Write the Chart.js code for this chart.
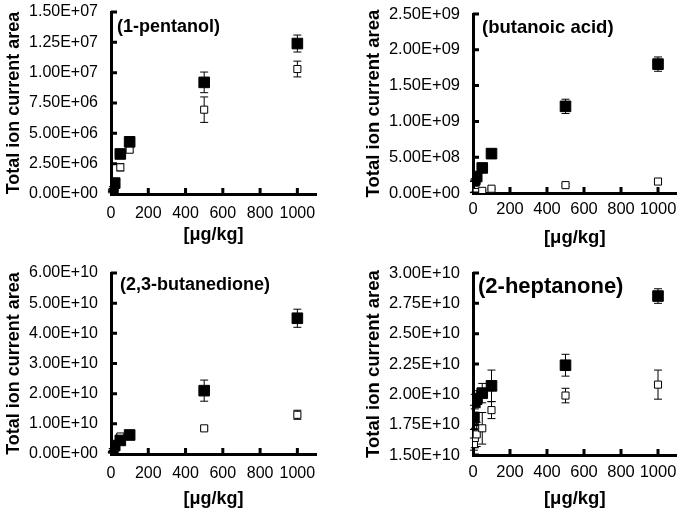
<!DOCTYPE html>
<html>
<head>
<meta charset="utf-8">
<script src="https://cdn.jsdelivr.net/npm/chart.js@4.4.1/dist/chart.umd.min.js"></script>
<style>
  body { margin: 0; background: #fff; overflow: hidden; }
  #wrap { position: relative; width: 685px; height: 510px; overflow: hidden; }
  canvas { position: absolute; }
</style>
</head>
<body>
<div id="wrap">
  <canvas id="c1" width="340" height="255" style="left:0;top:0"></canvas>
  <canvas id="c2" width="325" height="255" style="left:360px;top:0"></canvas>
  <canvas id="c3" width="340" height="253" style="left:0;top:257px"></canvas>
  <canvas id="c4" width="325" height="253" style="left:360px;top:257px"></canvas>
</div>
<script>
// concentrations, µg/kg
const conc = [5, 10, 20, 50, 100, 500, 1000];
const xTicks = [0, 200, 400, 600, 800, 1000];

// 1-pentanol
const pentanolFilled = [0.3e6, 0.5e6, 0.9e6, 3.3e6, 4.3e6, 9.2e6, 1.24e7];
const pentanolFilledErr = [0.1e6, 0.1e6, 0.1e6, 0.2e6, 0.2e6, 0.85e6, 0.7e6];
const pentanolOpen = [0.2e6, 0.35e6, 0.6e6, 2.2e6, 3.65e6, 6.95e6, 1.03e7];
const pentanolOpenErr = [0.1e6, 0.1e6, 0.1e6, 0.3e6, 0.2e6, 1.05e6, 0.65e6];

// butanoic acid
const butanoicFilled = [1.7e8, 1.9e8, 2.3e8, 3.5e8, 5.5e8, 1.21e9, 1.80e9];
const butanoicFilledErr = [0.1e8, 0.1e8, 0.1e8, 0.2e8, 0.3e8, 1.0e8, 1.0e8];
const butanoicOpen = [0.8e7, 1.0e7, 1.5e7, 3.0e7, 6.0e7, 1.1e8, 1.6e8];
const butanoicOpenErr = [0.2e7, 0.2e7, 0.3e7, 0.5e7, 1.0e7, 2.0e7, 3.0e7];

// 2,3-butanedione
const butanedioneFilled = [0.7e9, 1.5e9, 2.8e9, 4.5e9, 6.3e9, 2.1e10, 4.5e10];
const butanedioneFilledErr = [0.2e9, 0.3e9, 0.3e9, 0.5e9, 0.5e9, 3.5e9, 3.0e9];
const butanedioneOpen = [0.5e9, 1.5e9, 3.0e9, 5.8e9, 6.5e9, 8.5e9, 1.3e10];
const butanedioneOpenErr = [0.2e9, 0.3e9, 0.4e9, 0.5e9, 0.5e9, 0.5e9, 1.5e9];

// 2-heptanone
const heptanoneFilled = [1.81e10, 1.94e10, 1.96e10, 2.01e10, 2.07e10, 2.24e10, 2.81e10];
const heptanoneFilledErr = [0.1e10, 0.06e10, 0.07e10, 0.08e10, 0.13e10, 0.09e10, 0.06e10];
const heptanoneOpen = [1.59e10, 1.64e10, 1.67e10, 1.72e10, 1.87e10, 1.99e10, 2.08e10];
const heptanoneOpenErr = [0.05e10, 0.08e10, 0.1e10, 0.13e10, 0.07e10, 0.06e10, 0.12e10];

const FONT = '"Liberation Sans", Arial, sans-serif';

function sci(v) {
  if (Math.abs(v) < 1e-9) return '0.00E+00';
  let e = Math.floor(Math.log10(Math.abs(v)) + 1e-9);
  let m = v / Math.pow(10, e);
  return m.toFixed(2) + 'E' + (e < 0 ? '-' : '+') + String(Math.abs(e)).padStart(2, '0');
}

function pts(ys) {
  return conc.map((x, i) => ({ x: x, y: ys[i] }));
}

// error bars, drawn under the markers
const errorBars = {
  id: 'errorBars',
  beforeDatasetsDraw(chart) {
    const ctx = chart.ctx;
    const ys = chart.scales.y;
    ctx.save();
    ctx.strokeStyle = '#000';
    ctx.lineWidth = 1;
    chart.data.datasets.forEach((ds, di) => {
      const meta = chart.getDatasetMeta(di);
      meta.data.forEach((pt, i) => {
        const v = ds.data[i].y, e = ds.errors[i];
        const top = ys.getPixelForValue(v + e);
        const bot = ys.getPixelForValue(v - e);
        ctx.beginPath();
        ctx.moveTo(pt.x, top); ctx.lineTo(pt.x, bot);
        ctx.moveTo(pt.x - 4, top); ctx.lineTo(pt.x + 4, top);
        ctx.moveTo(pt.x - 4, bot); ctx.lineTo(pt.x + 4, bot);
        ctx.stroke();
      });
    });
    ctx.restore();
  }
};

// inward tick marks + panel label
const decor = {
  id: 'decor',
  afterDraw(chart, args, opts) {
    const ctx = chart.ctx;
    const xs = chart.scales.x, ys = chart.scales.y;
    const area = chart.chartArea;
    ctx.save();
    ctx.strokeStyle = '#000';
    ctx.lineWidth = 3;
    ctx.beginPath();
    xs.ticks.forEach(t => {
      if (t.value === 0) return;
      const px = xs.getPixelForValue(t.value);
      ctx.moveTo(px, area.bottom); ctx.lineTo(px, area.bottom - 6);
    });
    ys.ticks.forEach(t => {
      const py = ys.getPixelForValue(t.value);
      ctx.moveTo(area.left, py); ctx.lineTo(area.left + 6, py);
    });
    ctx.stroke();
    ctx.fillStyle = '#000';
    ctx.font = 'bold ' + opts.size + 'px ' + FONT;
    ctx.textBaseline = 'middle';
    ctx.fillText(opts.text, area.left + opts.dx, area.top + opts.dy);
    ctx.restore();
  }
};

function makeChart(id, p) {
  new Chart(document.getElementById(id), {
    type: 'scatter',
    data: {
      datasets: [
        {
          data: pts(p.filled), errors: p.filledErr,
          pointStyle: 'rect', pointRadius: 7.5, pointHoverRadius: 7.5,
          backgroundColor: '#000', borderColor: '#000', borderWidth: 1
        },
        {
          data: pts(p.open), errors: p.openErr,
          pointStyle: 'rect', pointRadius: 5, pointHoverRadius: 5,
          backgroundColor: '#fff', borderColor: '#000', borderWidth: 1
        }
      ]
    },
    options: {
      responsive: false,
      animation: false,
      layout: { padding: { left: 0, top: p.top, right: p.right, bottom: p.bottom } },
      plugins: {
        legend: { display: false },
        tooltip: { enabled: false },
        decor: { text: p.label, size: p.labelSize, dx: p.dx, dy: p.dy }
      },
      scales: {
        x: {
          type: 'linear', min: 0, max: 1100,
          afterBuildTicks: s => { s.ticks = xTicks.map(v => ({ value: v })); },
          afterFit: s => { s.height = p.xHeight; s.paddingLeft = 0; s.paddingRight = 0; },
          grid: { display: false, drawTicks: false },
          border: { display: true, color: '#000', width: 3 },
          ticks: {
            padding: p.xPad, color: '#000', maxRotation: 0, minRotation: 0, autoSkip: false,
            callback: v => String(v),
            font: { family: FONT, size: p.tickSize }
          },
          title: {
            display: true, text: '[μg/kg]', color: '#000', padding: 0,
            font: { family: FONT, size: p.titleSize, weight: 'bold' }
          }
        },
        y: {
          min: p.yMin, max: p.yMax,
          ticks: {
            stepSize: p.yStep, padding: 13, color: '#000',
            callback: v => sci(v),
            font: { family: FONT, size: p.tickSize }
          },
          afterFit: s => { s.width = p.yWidth; s.paddingTop = 0; s.paddingBottom = 0; },
          grid: { display: false, drawTicks: false },
          border: { display: true, color: '#000', width: 3 },
          title: {
            display: true, text: 'Total ion current area', color: '#000', padding: { top: 3, bottom: 0 },
            font: { family: FONT, size: p.titleSize, weight: 'bold' }
          }
        }
      }
    },
    plugins: [errorBars, decor]
  });
}

makeChart('c1', {
  filled: pentanolFilled, filledErr: pentanolFilledErr, open: pentanolOpen, openErr: pentanolOpenErr,
  yMin: 0, yMax: 1.5e7, yStep: 2.5e6, label: '(1-pentanol)', labelSize: 18, dx: 6, dy: 15,
  top: 12, right: 24, bottom: 9, xHeight: 52, xPad: 10, yWidth: 111, tickSize: 16, titleSize: 18
});
makeChart('c2', {
  filled: butanoicFilled, filledErr: butanoicFilledErr, open: butanoicOpen, openErr: butanoicOpenErr,
  yMin: 0, yMax: 2.5e9, yStep: 5e8, label: '(butanoic acid)', labelSize: 18.5, dx: 9, dy: 14,
  top: 14, right: 3, bottom: 6, xHeight: 56, xPad: 7, yWidth: 113, tickSize: 16.5, titleSize: 18.5
});
makeChart('c3', {
  filled: butanedioneFilled, filledErr: butanedioneFilledErr, open: butanedioneOpen, openErr: butanedioneOpenErr,
  yMin: 0, yMax: 6e10, yStep: 1e10, label: '(2,3-butanedione)', labelSize: 18, dx: 9, dy: 12,
  top: 16, right: 24, bottom: 0, xHeight: 56, xPad: 10, yWidth: 111, tickSize: 16, titleSize: 18
});
makeChart('c4', {
  filled: heptanoneFilled, filledErr: heptanoneFilledErr, open: heptanoneOpen, openErr: heptanoneOpenErr,
  yMin: 1.5e10, yMax: 3.0e10, yStep: 2.5e9, label: '(2-heptanone)', labelSize: 22, dx: 5, dy: 14,
  top: 16, right: 3, bottom: 0, xHeight: 55, xPad: 8, yWidth: 113, tickSize: 16.5, titleSize: 18.5
});
</script>
</body>
</html>
